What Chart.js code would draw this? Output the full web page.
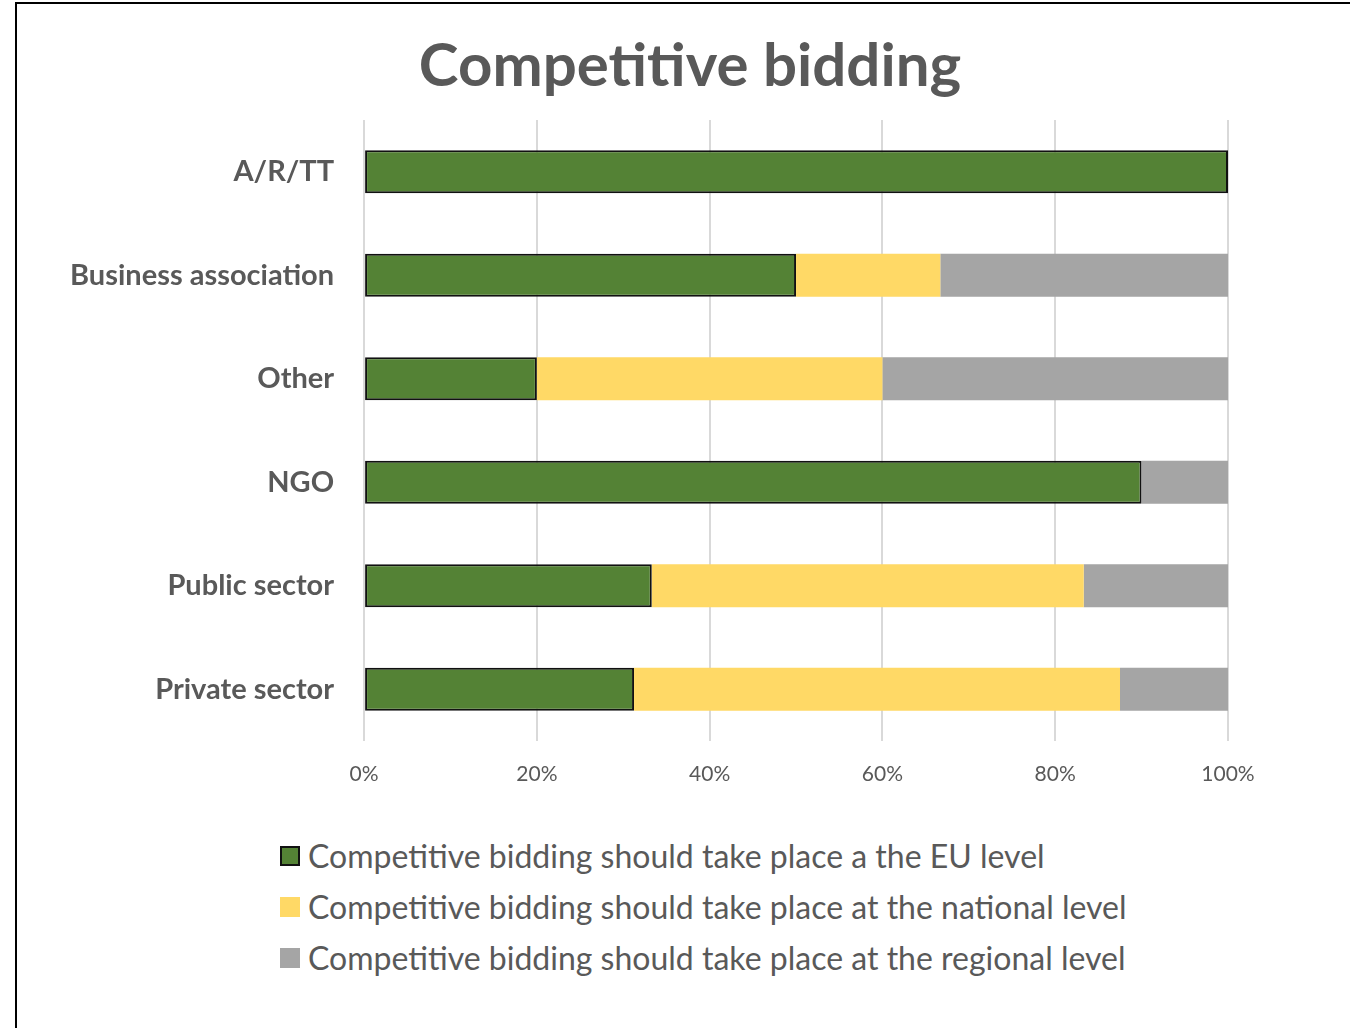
<!DOCTYPE html>
<html>
<head>
<meta charset="utf-8">
<title>Competitive bidding</title>
<script src="https://cdn.jsdelivr.net/npm/chart.js@4.4.1/dist/chart.umd.min.js"></script>
<style>
  html, body { margin: 0; padding: 0; background: #fff; overflow: hidden; }
  #frame {
    position: absolute; left: 15px; top: 2px; width: 1400px; height: 1100px;
    border-left: 2px solid #000; border-top: 2px solid #000;
  }
  #wrap { position: absolute; left: 0; top: 0; width: 1333px; height: 807px; }
  #legend {
    position: absolute; left: 263px; top: 826px;
    font-family: Lato, "Open Sans", sans-serif; font-size: 32px; color: #595959;
  }
  .item { display: flex; align-items: center; height: 51px; }
  .swatch { width: 20px; height: 20px; box-sizing: border-box; margin-right: 8px; }
</style>
</head>
<body>
<div id="frame">
  <div id="wrap"><canvas id="chart"></canvas></div>
  <div id="legend"></div>
</div>
<script>
const categories = ["A/R/TT", "Business association", "Other", "NGO", "Public sector", "Private sector"];
const seriesNames = [
    "Competitive bidding should take place a the EU level",
    "Competitive bidding should take place at the national level",
    "Competitive bidding should take place at the regional level"
];
const euLevel = [100, 50, 20, 90, 33.3, 31.25];
const nationalLevel = [0, 16.7, 40, 0, 50, 56.25];
const regionalLevel = [0, 33.3, 40, 10, 16.7, 12.5];
const tickValues = [0, 20, 40, 60, 80, 100];
const chartTitle = "Competitive bidding";

const fills = ["#548235", "#FFD966", "#A5A5A5"];
const edges = ["#111111", "#FFD966", "#A5A5A5"];
const textColor = "#595959";

const datasets = [euLevel, nationalLevel, regionalLevel].map((values, i) => ({
    label: seriesNames[i],
    data: values,
    backgroundColor: fills[i],
    borderColor: edges[i],
    borderWidth: i === 0 ? 2 : 0,
    borderSkipped: false,
    barPercentage: 0.83,
    categoryPercentage: 0.5
}));

// title drawn in the reserved top band, centred a little right of the canvas middle
const titlePlugin = {
    id: "centeredTitle",
    afterDraw(chart) {
        const ctx = chart.ctx;
        ctx.save();
        ctx.font = "bold 60px Lato";
        ctx.fillStyle = textColor;
        ctx.textAlign = "center";
        ctx.textBaseline = "middle";
        ctx.fillText(chartTitle, 673, 63);
        ctx.restore();
    }
};

new Chart(document.getElementById("chart"), {
    type: "bar",
    data: { labels: categories, datasets },
    options: {
        indexAxis: "y",
        responsive: true,
        maintainAspectRatio: false,
        animation: false,
        layout: { padding: { left: 23, right: 122, top: 116, bottom: 10 } },
        plugins: {
            legend: { display: false },
            tooltip: { enabled: false },
            title: { display: false }
        },
        scales: {
            x: {
                stacked: true,
                min: 0,
                max: 100,
                afterBuildTicks: (axis) => { axis.ticks = tickValues.map((v) => ({ value: v })); },
                afterFit: (axis) => { axis.height = 60; },
                ticks: {
                    callback: (v) => v + "%",
                    color: textColor,
                    font: { family: "Lato", size: 21 },
                    padding: 21
                },
                grid: { color: "#D9D9D9", lineWidth: 2, drawTicks: false },
                border: { display: false }
            },
            y: {
                stacked: true,
                ticks: {
                    color: textColor,
                    font: { family: "Lato", size: 29, weight: "bold" },
                    padding: 30
                },
                grid: { display: false, drawTicks: false },
                border: { display: false }
            }
        }
    },
    plugins: [titlePlugin]
});

// legend rows stacked on the left, one per series
const legend = document.getElementById("legend");
seriesNames.forEach((name, i) => {
    const row = document.createElement("div");
    row.className = "item";
    const sw = document.createElement("span");
    sw.className = "swatch";
    sw.style.background = fills[i];
    if (i === 0) sw.style.border = "2px solid #111";
    const label = document.createElement("span");
    label.textContent = name;
    row.appendChild(sw);
    row.appendChild(label);
    legend.appendChild(row);
});
</script>
</body>
</html>
